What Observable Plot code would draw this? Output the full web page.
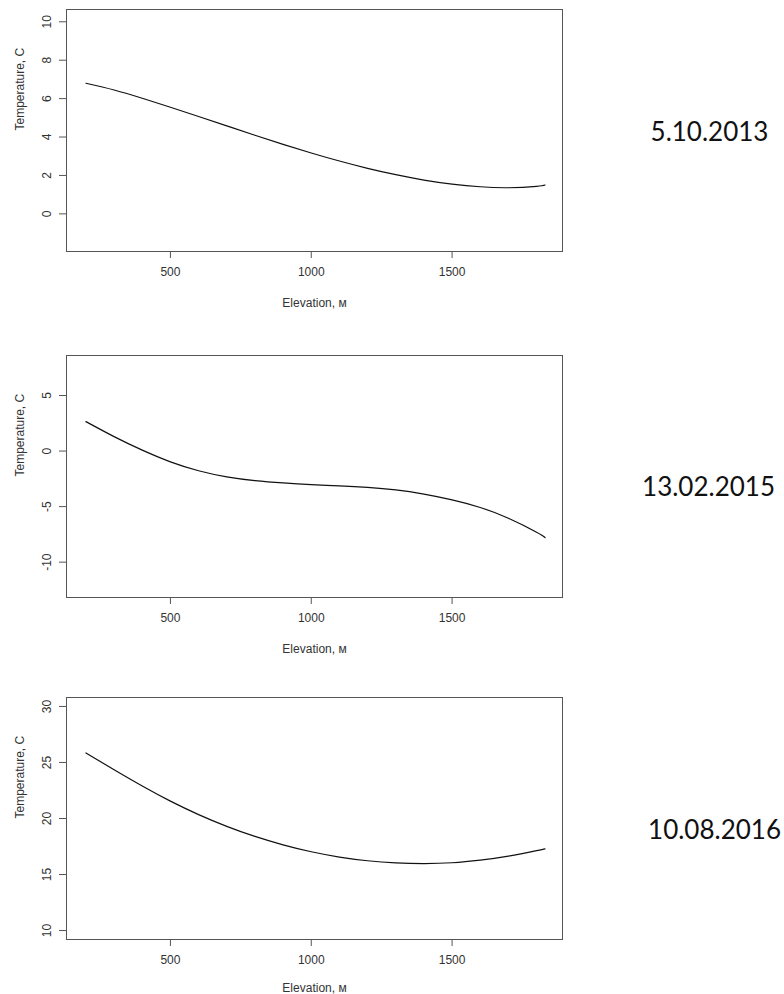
<!DOCTYPE html>
<html><head><meta charset="utf-8">
<script src="https://cdn.jsdelivr.net/npm/d3@7"></script>
<script src="https://cdn.jsdelivr.net/npm/@observablehq/plot@0.6"></script>
<style>
html,body{margin:0;padding:0;background:#fff;}
#chart{position:relative;width:784px;height:994px;overflow:hidden;background:#fff;}
#chart svg{position:absolute;left:0;}
</style></head><body><div id="chart"></div>
<script>
// Elevation (m) sample points along each fitted curve
const elevation = [200, 300, 400, 500, 600, 700, 800, 900, 1000, 1100, 1200, 1300, 1400, 1500, 1600, 1700, 1800, 1830];
// Temperature (C)
const temp2013 = [6.80, 6.45, 6.02, 5.55, 5.07, 4.58, 4.09, 3.62, 3.17, 2.75, 2.37, 2.04, 1.76, 1.55, 1.41, 1.36, 1.43, 1.50];
const temp2015 = [2.65, 1.30, 0.08, -0.97, -1.77, -2.32, -2.66, -2.87, -3.02, -3.13, -3.27, -3.50, -3.88, -4.40, -5.08, -6.05, -7.30, -7.78];
const temp2016 = [25.85, 24.35, 22.90, 21.55, 20.35, 19.30, 18.40, 17.65, 17.03, 16.56, 16.23, 16.04, 15.98, 16.05, 16.28, 16.64, 17.13, 17.29];

const dates = ["5.10.2013", "13.02.2015", "10.08.2016"];
const xTicks = [500, 1000, 1500];
const yTicks2013 = [0, 2, 4, 6, 8, 10];
const yTicks2015 = [-10, -5, 0, 5];
const yTicks2016 = [10, 15, 20, 25, 30];
const xLabel = "Elevation, м";
const yLabel = "Temperature, C";

const panels = [
  {values: temp2013, ticks: yTicks2013, domain: [-1.96, 10.64], date: dates[0], top: 0,   mt: 9,  h: 330, labDy: 55, dateDx: 147, dateDy: 10},
  {values: temp2015, ticks: yTicks2015, domain: [-13.18, 8.6],  date: dates[1], top: 345, mt: 10, h: 330, labDy: 55, dateDx: 146, dateDy: 19},
  {values: temp2016, ticks: yTicks2016, domain: [9.2, 30.8],    date: dates[2], top: 687, mt: 10, h: 307, labDy: 52, dateDx: 152, dateDy: 20}
];

const frameH = 242;
const chart = document.getElementById("chart");
const fmt = d => String(d);

for (const p of panels) {
  const data = elevation.map((e, i) => ({elevation: e, temp: p.values[i]}));
  const svg = Plot.plot({
    width: 784,
    height: p.h,
    marginLeft: 66,
    marginRight: 222,
    marginTop: p.mt,
    marginBottom: p.h - p.mt - frameH,
    style: {fontFamily: "'Liberation Sans', Arial, sans-serif", fontSize: "12px", color: "#333", background: "white", overflow: "visible"},
    x: {domain: [131, 1892]},
    y: {domain: p.domain},
    marks: [
      Plot.frame({stroke: "#555"}),
      Plot.axisX({ticks: xTicks, tickFormat: fmt, tickSize: 7, tickPadding: 9, label: null, stroke: "#555"}),
      Plot.axisY({ticks: p.ticks, tickFormat: fmt, tickSize: 7, tickPadding: 9, tickRotate: -90, label: null, stroke: "#555"}),
      Plot.line(data, {x: "elevation", y: "temp", curve: "natural", stroke: "#111", strokeWidth: 1.2}),
      Plot.text([xLabel], {frameAnchor: "bottom", dy: p.labDy, lineAnchor: "bottom", fill: "#333", fontSize: 12}),
      Plot.text([yLabel], {frameAnchor: "left", dx: -43, rotate: -90, lineAnchor: "bottom", fill: "#333", fontSize: 12}),
      Plot.text([p.date], {frameAnchor: "right", dx: p.dateDx, dy: p.dateDy, textAnchor: "middle", lineAnchor: "bottom", fontFamily: "Lato, 'Open Sans', sans-serif", fontSize: 26, fill: "#111"})
    ]
  });
  svg.style.top = p.top + "px";
  chart.appendChild(svg);
}
</script>
</body></html>
